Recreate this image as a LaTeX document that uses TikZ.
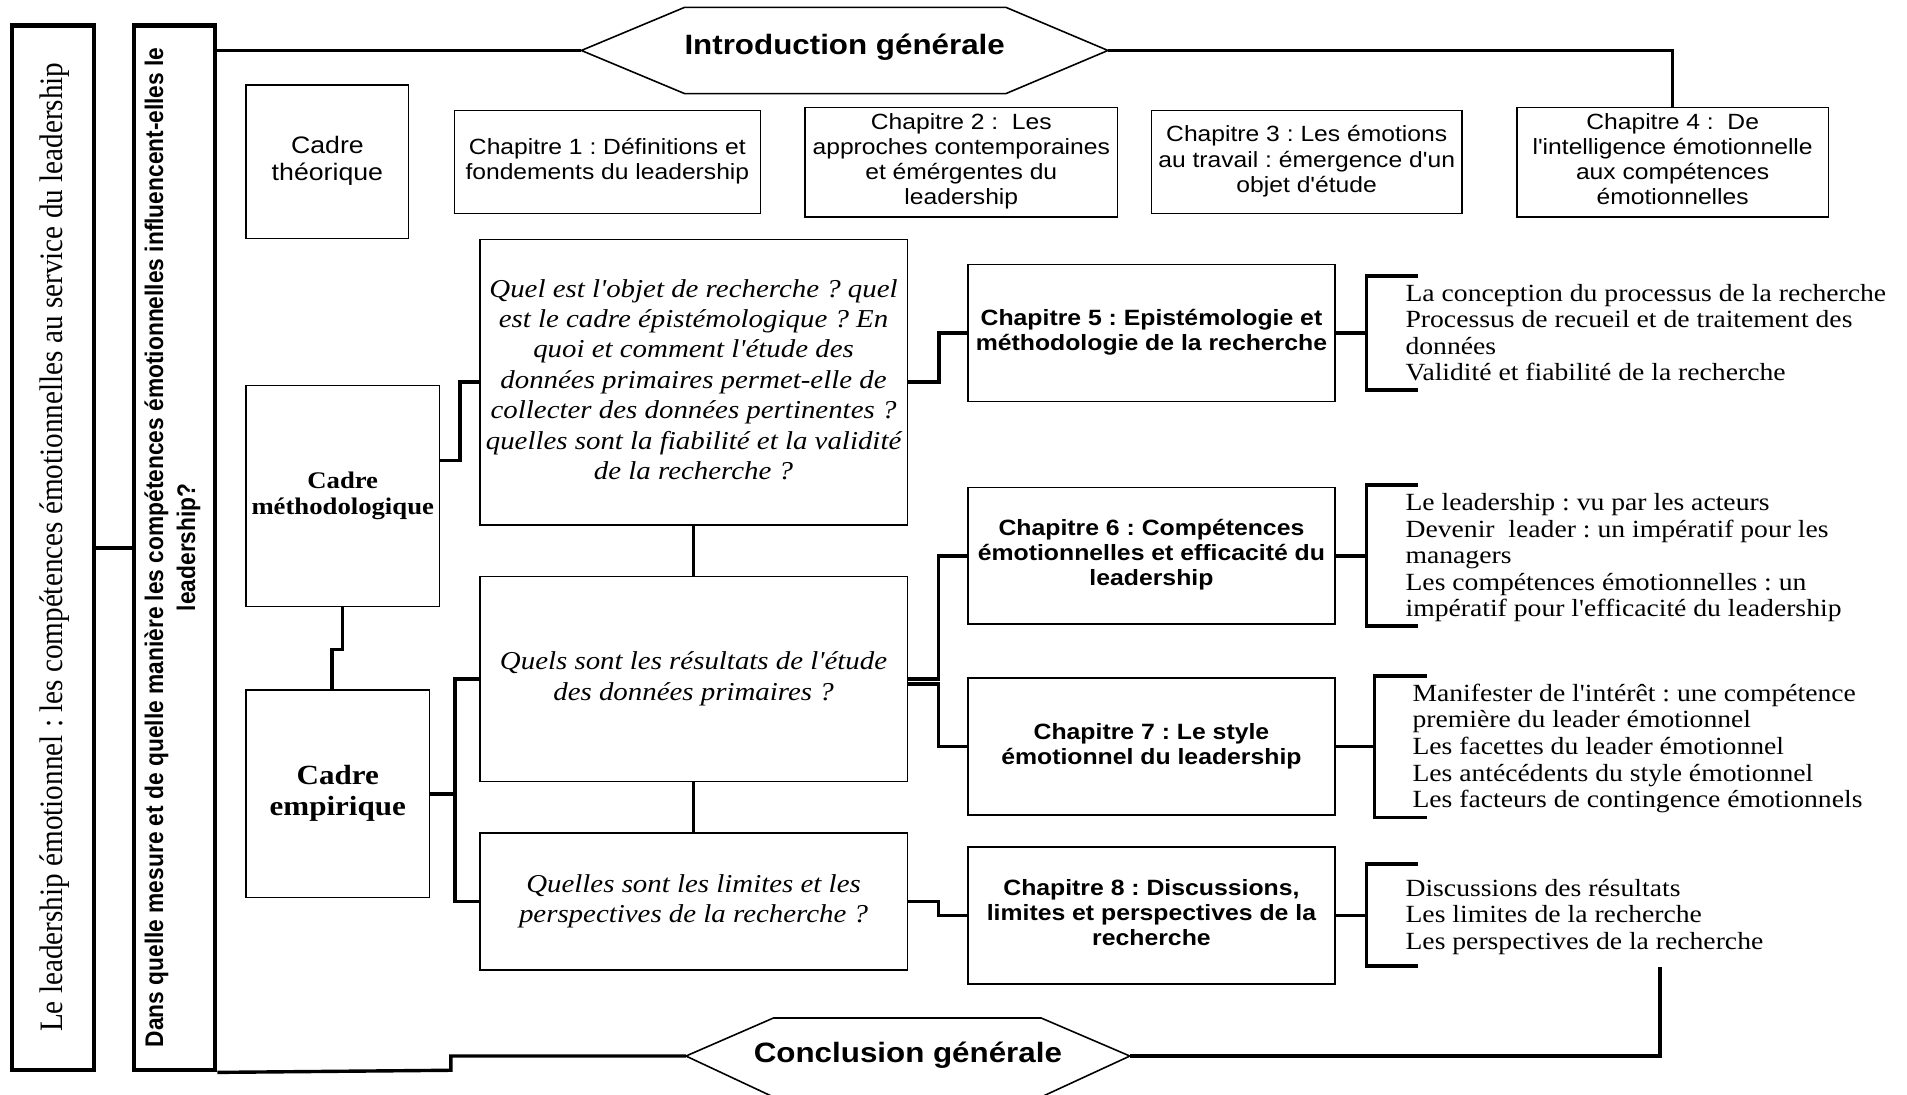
\documentclass[tikz,border=0pt]{standalone}
\usepackage{fontspec}
\usepackage{graphicx}
\newfontfamily\serifR{Liberation Serif}
\newfontfamily\sansR{Liberation Sans}
\frenchspacing
\newcommand{\hs}[2][c]{\scalebox{1.12}[1]{\begin{tabular}{@{}#1@{}}#2\end{tabular}}}
\newcommand{\vs}[1]{\scalebox{1}[1.12]{\begin{tabular}{@{}c@{}}#1\end{tabular}}}
\tikzset{
  frame/.style={draw=black, line width=3.5pt, inner sep=0pt},
  tbox/.style={draw=black, line width=1.3pt, inner sep=0pt},
  conn/.style={draw=black, line width=2.8pt},
  hexa/.style={draw=black, line width=1.3pt},
  chapR/.style={tbox, font={\sansR\fontsize{18.1}{20.6}\selectfont}},
  chapB/.style={tbox, minimum width=301.5pt, minimum height=112.5pt, font={\sansR\bfseries\fontsize{18.2}{20.6}\selectfont}},
  quest/.style={tbox, minimum width=351.5pt, font={\serifR\itshape\fontsize{21.2}{25}\selectfont}},
  listtext/.style={inner sep=0pt, anchor=west, font={\serifR\fontsize{20.3}{21.8}\selectfont}},
  hexlabel/.style={inner sep=0pt, font={\sansR\bfseries\fontsize{23}{26}\selectfont}},
}
\begin{document}
\begin{tikzpicture}[x=1pt, y=-1pt]
\useasboundingbox (0,0) rectangle (1568,900);
\fill[white] (0,0) rectangle (1568,900);

% left frames
\node[frame, minimum width=67pt, minimum height=859pt] (box1) at (43.5,450.5) {};
\node[rotate=90, inner sep=0pt, font={\serifR\fontsize{24}{28}\selectfont}] (box1t) at (45,450) {\vs{Le leadership émotionnel : les compétences émotionnelles au service du leadership}};
\node[frame, minimum width=67pt, minimum height=859pt] (box2) at (143.5,450.5) {};
\node[rotate=90, inner sep=0pt, font={\sansR\bfseries\fontsize{18.7}{23.5}\selectfont}] (box2t) at (142,450) {\vs{Dans quelle mesure et de quelle manière les compétences émotionnelles influencent-elles le\\leadership?}};

% introduction hexagon
\coordinate (iw) at (478,41.5);
\coordinate (ie) at (911,41.5);
\draw[hexa] (iw) -- (563,6) -- (827,6) -- (ie) -- (827,77) -- (563,77) -- cycle;
\node[hexlabel] (intro) at (694.5,40) {\hs{Introduction générale}};

% conclusion hexagon
\coordinate (cw) at (564,868.3);
\coordinate (cE) at (929,868.3);
\draw[hexa] (cw) -- (636,837) -- (856,837) -- (cE) -- (856,902) -- (636,902) -- cycle;
\node[hexlabel] (concl) at (746.5,868) {\hs{Conclusion générale}};

% theoretical part
\node[tbox, minimum width=133.6pt, minimum height=126pt, font={\sansR\fontsize{19.6}{22.6}\selectfont}] (ct) at (269.2,133) {\hs{Cadre\\théorique}};
\node[chapR, minimum width=251.5pt, minimum height=84.4pt] (c1) at (499.4,133.2) {\hs{Chapitre 1 : Définitions et\\fondements du leadership}};
\node[chapR, minimum width=256.8pt, minimum height=89.9pt] (c2) at (790.4,133.25) {\hs{Chapitre 2 :~ Les\\approches contemporaines\\et émérgentes du\\leadership}};
\node[chapR, minimum width=255.2pt, minimum height=84.4pt] (c3) at (1074.4,133.2) {\hs{Chapitre 3 : Les émotions\\au travail : émergence d'un\\objet d'étude}};
\node[chapR, minimum width=256pt, minimum height=89.9pt] (c4) at (1375.3,133.25) {\hs{Chapitre 4 :~ De\\l'intelligence émotionnelle\\aux compétences\\émotionnelles}};

% frames
\node[tbox, minimum width=158.8pt, minimum height=181.6pt, font={\serifR\bfseries\fontsize{19.6}{21.5}\selectfont}] (cm) at (281.8,407.8) {\hs{Cadre\\méthodologique}};
\node[tbox, minimum width=150.6pt, minimum height=170.5pt, font={\serifR\bfseries\fontsize{22.8}{25}\selectfont}] (ce) at (277.7,652.75) {\hs{Cadre\\empirique}};

% questions
\node[quest, minimum height=234.9pt] (q1) at (570.25,314.25) {\hs{Quel est l'objet de recherche ? quel\\est le cadre épistémologique ? En\\quoi et comment l'étude des\\données primaires permet-elle de\\collecter des données pertinentes ?\\quelles sont la fiabilité et la validité\\de la recherche ?}};
\node[quest, minimum height=168.7pt] (q2) at (570.25,558.35) {\hs{Quels sont les résultats de l'étude\\des données primaires ?}};
\node[quest, minimum height=112.9pt] (q3) at (570.25,741.15) {\hs{Quelles sont les limites et les\\perspectives de la recherche ?}};

% empirical chapters
\node[chapB] (c5) at (946.75,273.8) {\hs{Chapitre 5 : Epistémologie et\\méthodologie de la recherche}};
\node[chapB] (c6) at (946.75,457) {\hs{Chapitre 6 : Compétences\\émotionnelles et efficacité du\\leadership}};
\node[chapB] (c7) at (946.75,613.95) {\hs{Chapitre 7 : Le style\\émotionnel du leadership}};
\node[chapB] (c8) at (946.75,752.85) {\hs{Chapitre 8 : Discussions,\\limites et perspectives de la\\recherche}};

% lists
\node[listtext] (l5) at (1155.5,276) {\hs[l]{La conception du processus de la recherche\\Processus de recueil et de traitement des\\données\\Validité et fiabilité de la recherche}};
\node[listtext] (l6) at (1155.5,459) {\hs[l]{Le leadership : vu par les acteurs\\Devenir~ leader : un impératif pour les\\managers\\Les compétences émotionnelles : un\\impératif pour l'efficacité du leadership}};
\node[listtext] (l7) at (1161.2,616) {\hs[l]{Manifester de l'intérêt : une compétence\\première du leader émotionnel\\Les facettes du leader émotionnel\\Les antécédents du style émotionnel\\Les facteurs de contingence émotionnels}};
\node[listtext] (l8) at (1155.5,754.5) {\hs[l]{Discussions des résultats\\Les limites de la recherche\\Les perspectives de la recherche}};

% outer connectors
\draw[conn] (box1.east) -- (box2.west);
\draw[conn] (box2.east |- iw) -- (iw);
\draw[conn] (ie) -| (c4.north);
\draw[conn] (box2.south east) -- (370.7,880) |- (cw);
\coordinate (brend) at (1365,795.4);
\draw[conn] (cE) -| (brend);

% frame connectors
\draw[conn] (cm.south) -- ++(0,35) -| ([xshift=-4.7pt]ce.north);
\draw[conn] ([yshift=29pt]cm.east) -- ++(16.5,0) |- (q1.west);
\draw[conn] (ce.east) -- ++(20.5,0) coordinate (cej);
\draw[conn] (cej) |- (q2.west);
\draw[conn] (cej) |- (q3.west);
\draw[conn] (q1.south) -- (q2.north);
\draw[conn] (q2.south) -- (q3.north);

% question to chapter connectors
\draw[conn] (q1.east) -- ++(25.5,0) |- (c5.west);
\draw[conn] (q2.east) -- ++(25,0) |- (c6.west);
\draw[conn] ([yshift=-4pt]q2.east) -- ++(25,0) |- (c7.west);
\draw[conn] (q3.east) -- ++(25,0) |- (c8.west);

% brackets
\coordinate (k5) at (1123.7,273.8);
\coordinate (k6) at (1123.7,457);
\coordinate (k7) at (1130.3,613.95);
\coordinate (k8) at (1123.7,752.85);
\draw[conn] (c5.east) -- (k5);
\draw[conn] (c6.east) -- (k6);
\draw[conn] (c7.east) -- (k7);
\draw[conn] (c8.east) -- (k8);
\draw[conn] (1166,227) -- (1123.7,227) -- (1123.7,320.7) -- (1166,320.7);
\draw[conn] (1166,398.8) -- (1123.7,398.8) -- (1123.7,514.7) -- (1166,514.7);
\draw[conn] (1173.4,555.8) -- (1130.3,555.8) -- (1130.3,672) -- (1173.4,672);
\draw[conn] (1166,710.4) -- (1123.7,710.4) -- (1123.7,794.3) -- (1166,794.3);
\end{tikzpicture}
\end{document}
